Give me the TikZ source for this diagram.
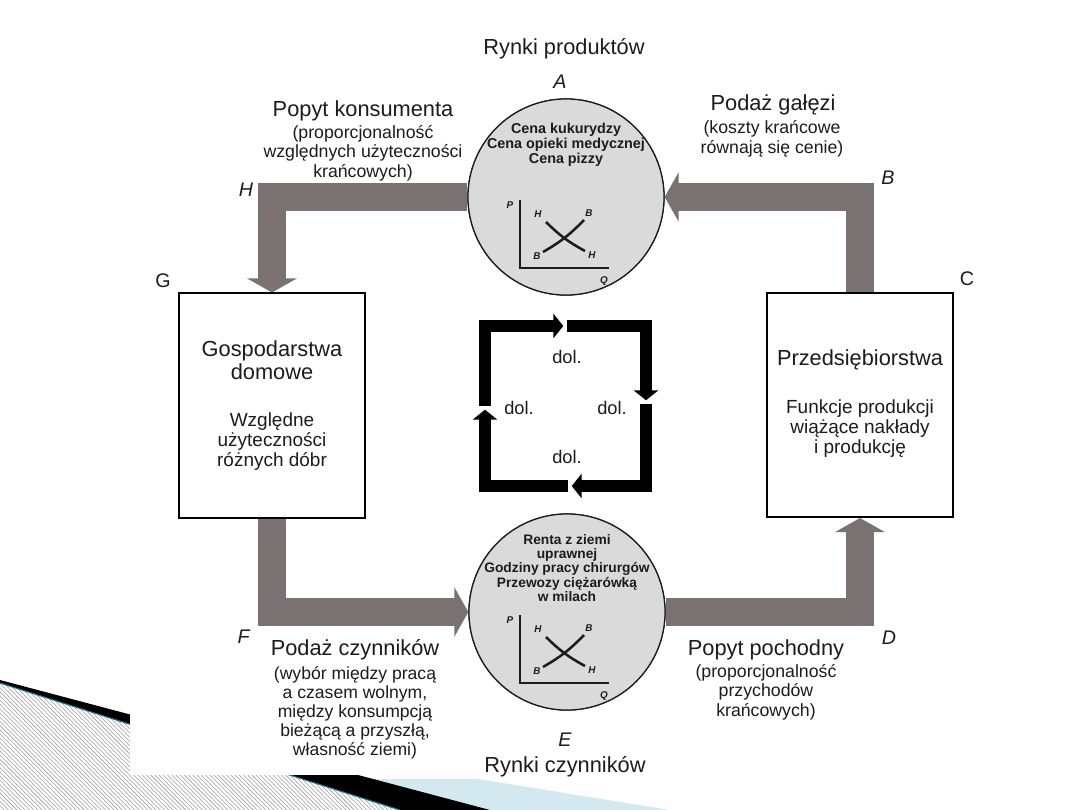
\documentclass[tikz,border=0pt]{standalone}
\usepackage{fontspec}
\setmainfont{Liberation Sans}
\usepackage{xcolor}
\usepackage{tikz}
\usetikzlibrary{arrows.meta, positioning, patterns}

\definecolor{bandgray}{RGB}{122,114,114}
\definecolor{marketfill}{RGB}{218,218,218}
\definecolor{inkblack}{RGB}{28,28,28}
\definecolor{chevblue}{RGB}{212,232,240}
\definecolor{chevteal}{RGB}{30,105,125}

\tikzset{
    band/.style={draw=bandgray, line width=20pt, -{Triangle[width=35pt, length=10pt]}},
    flow/.style={draw=black, line width=9pt, -{Triangle[width=17pt, length=7pt]},
        shorten <=1.2pt, shorten >=1.2pt},
    market/.style={circle, draw=inkblack, line width=0.9pt, fill=marketfill,
        minimum size=4.9cm, inner sep=0pt},
    sector/.style={draw=black, line width=1.4pt, fill=white,
        minimum width=4.65cm, minimum height=5.6cm},
    head/.style={font=\fontsize{15.5}{17}\selectfont, text=inkblack},
    note/.style={font=\fontsize{12.6}{14}\selectfont, align=center, text=inkblack},
    boxtxt/.style={font=\fontsize{13.5}{14.2}\selectfont, align=center, text=inkblack},
    cornerlbl/.style={font=\fontsize{14}{16}\selectfont, text=inkblack},
    inmkt/.style={font=\bfseries\fontsize{9.8}{10.2}\selectfont, align=center, text=inkblack},
    tiny/.style={font=\itshape\bfseries\fontsize{7}{8}\selectfont, text=inkblack, inner sep=0pt},
    money/.style={font=\fontsize{13}{14}\selectfont, text=inkblack}
}

\begin{document}
\begin{tikzpicture}[x=0.025cm, y=-0.025cm]

    \useasboundingbox (0,0) rectangle (1080,810);

    % --- slide decoration, bottom left
    \fill[chevblue] (300,779) -- (478,779) -- (670,810) -- (300,810) -- cycle;
    \fill[black] (0,680) -- (490,810) -- (400,810) -- (0,683) -- cycle;
    \fill[white] (0,683) -- (400,810) -- (0,810) -- cycle;
    \fill[pattern=north west lines, pattern color=gray!75] (0,683) -- (400,810) -- (0,810) -- cycle;
    \draw[chevteal, line width=0.8pt] (0,683) -- (400,810);

    % --- the scanned sheet
    \fill[white] (130,25) rectangle (1010,775);

    % --- households and firms
    \node[sector] (hh) at (272,405.5) {};
    \node[sector] (firms) at (860,405) {};

    % --- the two markets
    \node[market] (prodmkt) at (566,197) {};
    \node[market] (factmkt) at (567,612) {};

    % --- gray flows
    \draw[band] (prodmkt.west) -| (hh.north);
    \draw[band] (firms.north) |- (prodmkt.east);
    \draw[band] (hh.south) |- (factmkt.west);
    \draw[band] (factmkt.east) -| (firms.south);
    \node[market, draw=none] at (prodmkt) {};
    \node[market, fill=none] at (prodmkt) {};
    \node[market, draw=none] at (factmkt) {};
    \node[market, fill=none] at (factmkt) {};

    % --- texts in the boxes
    \node[font=\fontsize{15.5}{16.5}\selectfont, align=center, text=inkblack] (hhname) at (272,360) {Gospodarstwa\\domowe};
    \node[boxtxt] (hhtxt) at (272,442) {Względne\\użyteczności\\różnych dóbr};
    \node[head] (firmname) at (860,360) {Przedsiębiorstwa};
    \node[boxtxt] (firmtxt) at (860,429) {Funkcje produkcji\\wiążące nakłady\\i produkcję};

    % --- texts in the markets
    \node[inmkt, font=\bfseries\fontsize{10.2}{10.7}\selectfont] (prodlist) at (566,145) {Cena kukurydzy\\Cena opieki medycznej\\Cena pizzy};
    \node[inmkt] (factlist) at (567,568) {Renta z ziemi\\uprawnej\\Godziny pracy chirurgów\\Przewozy ciężarówką\\w milach};

    % --- small supply and demand graphs
    \foreach \dy in {0,415} {
        \draw[inkblack, line width=1.1pt] (520,200+\dy) -- (520,268+\dy) -- (609,268+\dy);
        \draw[inkblack, line width=1.8pt] (546,222+\dy) to[bend right=8] (585,251+\dy);
        \draw[inkblack, line width=1.8pt] (543,252+\dy) to[bend right=8] (584,220+\dy);
        \node[tiny] at (510,205+\dy) {P};
        \node[tiny] at (604,281+\dy) {Q};
        \node[tiny] at (538,214+\dy) {H};
        \node[tiny] at (589,213+\dy) {B};
        \node[tiny] at (537,256+\dy) {B};
        \node[tiny] at (592,255+\dy) {H};
    }

    % --- money circle in the middle
    \coordinate (sqTL) at (485,326);
    \coordinate (sqTR) at (646,326);
    \coordinate (sqBR) at (646,486);
    \coordinate (sqBL) at (485,486);
    \coordinate (gapT) at (565,326);
    \coordinate (gapR) at (646,402);
    \coordinate (gapB) at (570,486);
    \coordinate (gapL) at (485,408);
    \draw[flow] (gapL) -- (sqTL) -- (gapT);
    \draw[flow] (gapT) -- (sqTR) -- (gapR);
    \draw[flow] (gapR) -- (sqBR) -- (gapB);
    \draw[flow] (gapB) -- (sqBL) -- (gapL);
    \node[money] (dolT) at (567,357) {dol.};
    \node[money] (dolL) at (519,408) {dol.};
    \node[money] (dolR) at (612,408) {dol.};
    \node[money] (dolB) at (567,457) {dol.};

    % --- titles of the markets
    \node[head] (prodtitle) at (564,49) {Rynki produktów};
    \node[head] (facttitle) at (565,767) {Rynki czynników};

    % --- flow labels
    \node[head] (consdem) at (363,111) {Popyt konsumenta};
    \node[note] (consnote) at (363,153) {(proporcjonalność\\względnych użyteczności\\krańcowych)};
    \node[head] (indsup) at (773,105) {Podaż gałęzi};
    \node[note] (indnote) at (772,139) {(koszty krańcowe\\równają się cenie)};
    \node[head] (factsup) at (355,650) {Podaż czynników};
    \node[note, font=\fontsize{12.5}{13.4}\selectfont] (factnote) at (355,713) {(wybór między pracą\\a czasem wolnym,\\między konsumpcją\\bieżącą a przyszłą,\\własność ziemi)};
    \node[head] (derdem) at (766,650) {Popyt pochodny};
    \node[note] (dernote) at (766,692) {(proporcjonalność\\przychodów\\krańcowych)};

    % --- corner letters
    \node[cornerlbl] (ptA) at (560,82) {\textit{A}};
    \node[cornerlbl] (ptB) at (888,178) {\textit{B}};
    \node[cornerlbl] (ptC) at (967,279) {C};
    \node[cornerlbl] (ptD) at (889,638) {\textit{D}};
    \node[cornerlbl] (ptE) at (565,740) {\textit{E}};
    \node[cornerlbl] (ptF) at (244,637) {\textit{F}};
    \node[cornerlbl] (ptG) at (163,281) {G};
    \node[cornerlbl] (ptH) at (246,190) {\textit{H}};

\end{tikzpicture}
\end{document}
